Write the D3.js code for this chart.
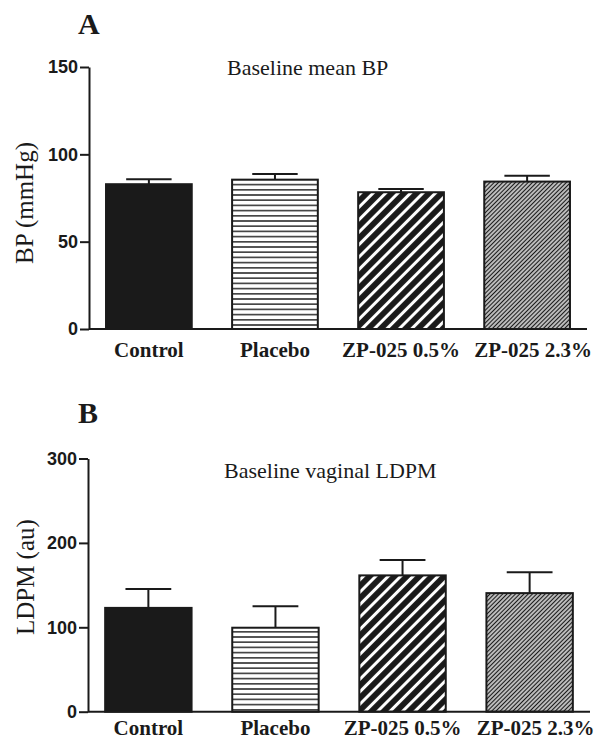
<!DOCTYPE html>
<html lang="en">
<head>
<meta charset="utf-8">
<title>Baseline BP and LDPM</title>
<script src="https://d3js.org/d3.v7.min.js"></script>
<style>
    body { margin: 0; background: #fff; }
    svg { display: block; }
    .axis path, .axis line { stroke: #1a1a1a; stroke-width: 2; }
    .axis text { font-family: "Liberation Sans", Arial, sans-serif; font-weight: bold; font-size: 18px; fill: #1a1a1a; }
    .cat { font-family: "Liberation Serif", "Times New Roman", serif; font-weight: bold; font-size: 21px; fill: #1a1a1a; }
    .title { font-family: "Liberation Serif", "Times New Roman", serif; font-size: 22px; fill: #1a1a1a; }
    .ylab { font-family: "Liberation Serif", "Times New Roman", serif; font-size: 25px; fill: #1a1a1a; }
    .letter { font-family: "Liberation Serif", "Times New Roman", serif; font-weight: bold; font-size: 30px; fill: #1a1a1a; }
</style>
</head>
<body>
<svg id="chart"></svg>
<script>
    var width = 603;
    var height = 739;

    // data
    var groups = ["Control", "Placebo", "ZP-025 0.5%", "ZP-025 2.3%"];
    var bpMean = [82.9, 85.5, 78.3, 84.4];
    var bpSem = [2.8, 3.3, 1.9, 3.4];
    var bpTicks = [0, 50, 100, 150];
    var ldpmMean = [123, 99.5, 161.5, 140.5];
    var ldpmSem = [22.5, 25.4, 18.1, 24.6];
    var ldpmTicks = [0, 100, 200, 300];

    var svg = d3.select("#chart")
        .attr("width", width)
        .attr("height", height);

    var defs = svg.append("defs");

    // horizontal lines (placebo)
    var pHor = defs.append("pattern")
        .attr("id", "hlines")
        .attr("patternUnits", "userSpaceOnUse")
        .attr("width", 8).attr("height", 5.2);
    pHor.append("rect").attr("width", 8).attr("height", 5.2).attr("fill", "#fff");
    pHor.append("line").attr("x1", 0).attr("x2", 8).attr("y1", 2.6).attr("y2", 2.6)
        .attr("stroke", "#1a1a1a").attr("stroke-width", 1.4);

    // wide white stripes on black (0.5%)
    var pWide = defs.append("pattern")
        .attr("id", "wide")
        .attr("patternUnits", "userSpaceOnUse")
        .attr("width", 8.8).attr("height", 8.8)
        .attr("patternTransform", "rotate(45)");
    pWide.append("rect").attr("width", 8.8).attr("height", 8.8).attr("fill", "#1a1a1a");
    pWide.append("line").attr("x1", 4.4).attr("x2", 4.4).attr("y1", 0).attr("y2", 8.8)
        .attr("stroke", "#fff").attr("stroke-width", 3);

    // fine black stripes on white (2.3%)
    var pFine = defs.append("pattern")
        .attr("id", "fine")
        .attr("patternUnits", "userSpaceOnUse")
        .attr("width", 3).attr("height", 3)
        .attr("patternTransform", "rotate(45)");
    pFine.append("rect").attr("width", 3).attr("height", 3).attr("fill", "#fff");
    pFine.append("line").attr("x1", 1.5).attr("x2", 1.5).attr("y1", 0).attr("y2", 3)
        .attr("stroke", "#1a1a1a").attr("stroke-width", 1.6);

    var fills = ["#1a1a1a", "url(#hlines)", "url(#wide)", "url(#fine)"];

    function panel(opt) {
        var x = d3.scaleBand()
            .domain(groups)
            .range([opt.left, opt.right])
            .paddingInner(0.32)
            .paddingOuter(0.135);
        var y = d3.scaleLinear()
            .domain([0, opt.max])
            .range([opt.bottom, opt.top]);

        var g = svg.append("g");

        var rows = groups.map(function (c, i) {
            return { cat: c, mean: opt.mean[i], sem: opt.sem[i], fill: fills[i] };
        });

        // error bars (upper only)
        var capW = x.bandwidth() * 0.53;
        var err = g.selectAll(".err").data(rows).enter().append("g");
        err.append("line")
            .attr("x1", function (d) { return x(d.cat) + x.bandwidth() / 2; })
            .attr("x2", function (d) { return x(d.cat) + x.bandwidth() / 2; })
            .attr("y1", function (d) { return y(d.mean); })
            .attr("y2", function (d) { return y(d.mean + d.sem); })
            .attr("stroke", "#1a1a1a").attr("stroke-width", 2);
        err.append("line")
            .attr("x1", function (d) { return x(d.cat) + x.bandwidth() / 2 - capW / 2; })
            .attr("x2", function (d) { return x(d.cat) + x.bandwidth() / 2 + capW / 2; })
            .attr("y1", function (d) { return y(d.mean + d.sem); })
            .attr("y2", function (d) { return y(d.mean + d.sem); })
            .attr("stroke", "#1a1a1a").attr("stroke-width", 2);

        g.selectAll(".bar").data(rows).enter().append("rect")
            .attr("x", function (d) { return x(d.cat); })
            .attr("width", x.bandwidth())
            .attr("y", function (d) { return y(d.mean); })
            .attr("height", function (d) { return opt.bottom - y(d.mean); })
            .attr("fill", function (d) { return d.fill; })
            .attr("stroke", "#1a1a1a")
            .attr("stroke-width", 2);

        // axes
        g.append("g")
            .attr("class", "axis")
            .attr("transform", "translate(" + opt.left + ",0)")
            .call(d3.axisLeft(y).tickValues(opt.ticks).tickSize(9).tickPadding(2).tickSizeOuter(0));
        g.append("g")
            .attr("class", "axis")
            .attr("transform", "translate(0," + opt.bottom + ")")
            .call(d3.axisBottom(x).tickSize(0).tickFormat(""))
            .select(".domain").attr("d", "M" + opt.left + ",0H" + opt.right);

        g.selectAll(".cat").data(groups).enter().append("text")
            .attr("class", "cat")
            .attr("x", function (d, i) { return x(d) + x.bandwidth() / 2 + (i === 3 ? 6 : 0); })
            .attr("y", opt.bottom + opt.catOffset)
            .attr("text-anchor", "middle")
            .text(function (d) { return d; });

        g.append("text").attr("class", "title")
            .attr("x", opt.titleX).attr("y", opt.titleY)
            .text(opt.title);
        g.append("text").attr("class", "letter")
            .attr("x", 78).attr("y", opt.letterY)
            .text(opt.letter);
        g.append("text").attr("class", "ylab")
            .attr("transform", "translate(" + opt.ylabX + "," + ((opt.top + opt.bottom) / 2 + opt.ylabDy) + ") rotate(-90)")
            .attr("text-anchor", "middle")
            .text(opt.ylab);
    }

    panel({
        left: 89, right: 587, top: 67, bottom: 329, max: 150,
        mean: bpMean, sem: bpSem, ticks: bpTicks,
        catOffset: 28, title: "Baseline mean BP", titleX: 227, titleY: 75,
        letter: "A", letterY: 34, ylab: "BP (mmHg)", ylabX: 33, ylabDy: 5
    });
    panel({
        left: 88, right: 590, top: 458.5, bottom: 711.7, max: 300,
        mean: ldpmMean, sem: ldpmSem, ticks: ldpmTicks,
        catOffset: 23, title: "Baseline vaginal LDPM", titleX: 224, titleY: 478,
        letter: "B", letterY: 423, ylab: "LDPM (au)", ylabX: 34, ylabDy: -8
    });
</script>
</body>
</html>
